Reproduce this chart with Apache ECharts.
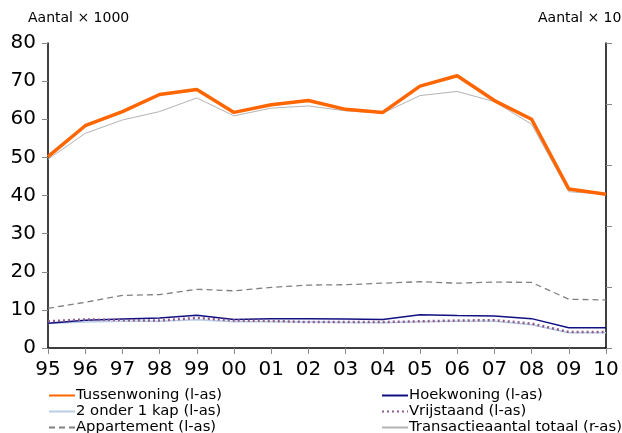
<!DOCTYPE html>
<html>
<head>
<meta charset="utf-8">
<script src="https://cdn.jsdelivr.net/npm/echarts@6/dist/echarts.min.js"></script>
<style>
  html, body { margin: 0; padding: 0; background: #fff; }
  #chart { width: 622px; height: 433px; }
</style>
</head>
<body>
<div id="chart"></div>
<script>
const jaren = ['95', '96', '97', '98', '99', '00', '01', '02', '03', '04', '05', '06', '07', '08', '09', '10'];

// linker as (x 1000)
const tussenwoning = [50.2, 58.3, 62.0, 66.5, 67.8, 61.8, 63.8, 64.9, 62.6, 61.8, 68.7, 71.4, 64.9, 60.0, 41.7, 40.3];
const hoekwoning = [6.5, 7.3, 7.6, 7.9, 8.6, 7.5, 7.7, 7.7, 7.6, 7.5, 8.7, 8.5, 8.4, 7.7, 5.3, 5.3];
const tweeOnderEenKap = [6.4, 6.8, 7.0, 7.0, 7.4, 6.9, 6.9, 6.8, 6.7, 6.6, 6.9, 7.0, 7.0, 6.1, 4.0, 4.0];
const vrijstaand = [7.0, 7.5, 7.3, 7.2, 7.9, 7.2, 7.1, 6.8, 6.8, 6.8, 7.0, 7.2, 7.3, 6.4, 4.2, 4.2];
const appartement = [10.4, 12.0, 13.8, 14.0, 15.4, 15.0, 15.9, 16.5, 16.6, 17.0, 17.4, 17.0, 17.3, 17.2, 12.8, 12.6];

// rechter as (x 1000)
const transactieTotaal = [154.7, 175.9, 186.9, 193.8, 205.0, 190.3, 196.6, 198.4, 194.4, 192.5, 206.9, 210.3, 201.9, 183.4, 128.1, 126.0];

const font = 'DejaVu Sans, Verdana, sans-serif';
const myChart = echarts.init(document.getElementById('chart'));

function lijn(name, data, color, width, type, yIndex, z) {
    return {
        name: name,
        type: 'line',
        data: data,
        yAxisIndex: yIndex,
        symbol: 'none',
        z: z,
        color: color,
        lineStyle: { color: color, width: width, type: type },
        emphasis: { disabled: true }
    };
}

const legendBase = {
    orient: 'vertical',
    top: 388,
    height: 48,
    itemWidth: 26,
    itemHeight: 12,
    itemGap: 1,
    padding: 0,
    itemStyle: { opacity: 0 },
    textStyle: { fontFamily: font, fontSize: 14.8, lineHeight: 15, color: '#000', padding: [0, 0, 0, -4] }
};

const option = {
    animation: false,
    backgroundColor: '#fff',
    textStyle: { fontFamily: font },
    grid: { left: 48, right: 16, top: 43, bottom: 85, containLabel: false },
    graphic: [
        { type: 'text', left: 28, top: 11, style: { text: 'Aantal × 1000', fontFamily: font, fontSize: 14, fill: '#000' } },
        { type: 'text', left: 538, top: 11, style: { text: 'Aantal × 1000', fontFamily: font, fontSize: 14, fill: '#000' } }
    ],
    legend: [
        Object.assign({}, legendBase, { left: 48, data: ['Tussenwoning (l-as)', '2 onder 1 kap (l-as)', 'Appartement (l-as)'] }),
        Object.assign({}, legendBase, { left: 381, data: ['Hoekwoning (l-as)', 'Vrijstaand (l-as)', 'Transactieaantal totaal (r-as)'] })
    ],
    xAxis: {
        type: 'category',
        boundaryGap: false,
        data: jaren,
        axisLine: { lineStyle: { color: '#000', width: 1.5 } },
        axisTick: { alignWithLabel: true, length: 6, lineStyle: { color: '#888' } },
        axisLabel: { fontFamily: font, fontSize: 20, color: '#000', margin: 12 }
    },
    yAxis: [
        {
            type: 'value',
            min: 0,
            max: 80,
            interval: 10,
            position: 'left',
            splitLine: { show: false },
            axisLine: { show: true, lineStyle: { color: '#000', width: 1.5 } },
            axisTick: { show: true, length: 6, lineStyle: { color: '#888' } },
            axisLabel: { fontFamily: font, fontSize: 20, color: '#000', margin: 12 }
        },
        {
            type: 'value',
            min: 0,
            max: 250,
            interval: 50,
            position: 'right',
            splitLine: { show: false },
            axisLine: { show: true, lineStyle: { color: '#000', width: 1.5 } },
            axisTick: { show: true, length: 6, lineStyle: { color: '#888' } },
            axisLabel: { show: false }
        }
    ],
    series: [
        lijn('Tussenwoning (l-as)', tussenwoning, '#ff6600', 3.5, 'solid', 0, 10),
        lijn('Hoekwoning (l-as)', hoekwoning, '#101080', 1.5, 'solid', 0, 6),
        lijn('2 onder 1 kap (l-as)', tweeOnderEenKap, '#b9cde5', 1.5, 'solid', 0, 4),
        lijn('Vrijstaand (l-as)', vrijstaand, '#8e5b8e', 2.5, [2, 3], 0, 7),
        lijn('Appartement (l-as)', appartement, '#808080', 1.3, [6, 4], 0, 5),
        lijn('Transactieaantal totaal (r-as)', transactieTotaal, '#b4b4b4', 1, 'solid', 1, 3)
    ]
};

myChart.setOption(option);
</script>
</body>
</html>
